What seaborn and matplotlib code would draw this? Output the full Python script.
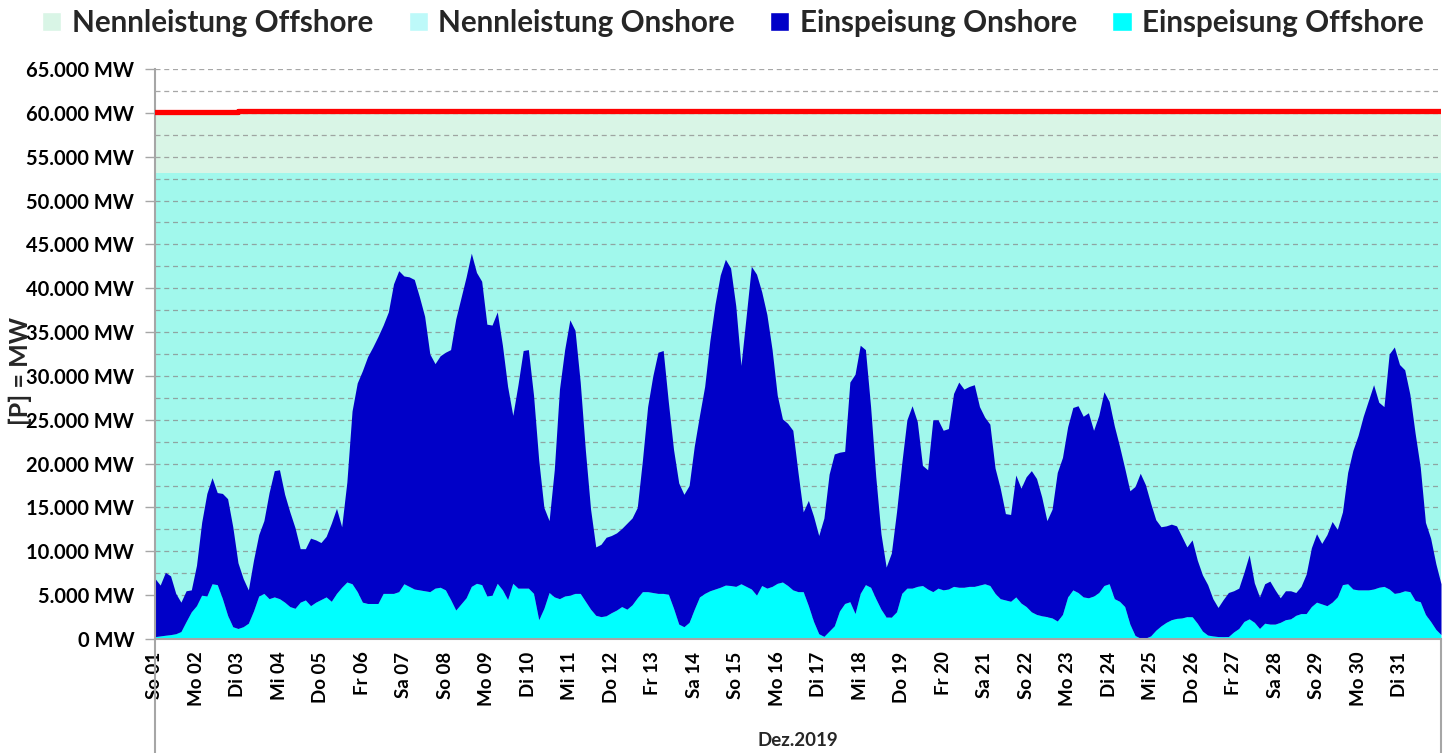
import numpy as np
import matplotlib
matplotlib.use("Agg")
import matplotlib.pyplot as plt
import seaborn as sns
from matplotlib.patches import Patch
from matplotlib.ticker import MultipleLocator, FuncFormatter

# ---------------- data (MW, 3-hour steps, 01.12.2019 00:00 .. 01.01.2020 00:00) -------------
EINSPEISUNG_GESAMT = [
    6900, 6150, 7600, 7200, 5200, 4200, 5500, 5600,
    8400, 13300, 16600, 18400, 16700, 16600, 16000, 12800,
    8700, 6900, 5600, 9000, 11900, 13500, 16700, 19200,
    19300, 16500, 14500, 12700, 10300, 10300, 11500, 11300,
    11000, 11700, 13200, 14900, 12800, 17900, 26000, 29200,
    30600, 32200, 33300, 34500, 35800, 37300, 40500, 42000,
    41400, 41300, 41000, 39000, 36800, 32500, 31400, 32300,
    32700, 33000, 36500, 38900, 41300, 44000, 41800, 40800,
    35900, 35800, 37300, 33500, 28800, 25500, 29000, 32900,
    33000, 27800, 20400, 15000, 13500, 19300, 28500, 33000,
    36400, 35200, 29300, 21500, 14800, 10500, 10800, 11600,
    11800, 12100, 12600, 13200, 13800, 15000, 20400, 26500,
    30000, 32700, 32900, 27000, 21600, 17800, 16500, 17500,
    22000, 25500, 28800, 34000, 38200, 41500, 43300, 42300,
    38000, 31200, 36800, 42500, 41600, 39600, 37000, 33000,
    27800, 25100, 24600, 23800, 19000, 14500, 15800, 14000,
    11800, 13800, 18800, 21100, 21300, 21400, 29300, 30200,
    33500, 33000, 26500, 18500, 12000, 8200, 9800, 14500,
    20000, 25000, 26600, 24800, 19800, 19300, 25000, 25000,
    23800, 24000, 28000, 29300, 28500, 28800, 29000, 26500,
    25300, 24500, 19500, 17200, 14300, 14200, 18700, 17200,
    18500, 19200, 18300, 16200, 13500, 14800, 19000, 20700,
    24200, 26400, 26600, 25400, 25800, 23800, 25500, 28200,
    27100, 24300, 22000, 19500, 16900, 17400, 18900, 17600,
    15500, 13600, 12800, 12900, 13100, 12900, 11700, 10500,
    11300, 9000, 7300, 6200, 4600, 3600, 4500, 5300,
    5500, 5800, 7600, 9600, 6400, 4800, 6300, 6600,
    5600, 4700, 5500, 5500, 5300, 6000, 7400, 10400,
    12000, 10900, 11900, 13400, 12500, 14500, 19000, 21500,
    23200, 25400, 27200, 29000, 27000, 26500, 32500, 33300,
    31300, 30700, 27900, 23500, 19600, 13300, 11500, 8600,
    6300,
]

EINSPEISUNG_OFFSHORE = [
    270, 350, 430, 500, 600, 850, 2000, 3100,
    3800, 5000, 4900, 6300, 6200, 4600, 2700, 1400,
    1200, 1400, 1800, 3200, 4900, 5200, 4600, 4800,
    4600, 4200, 3700, 3500, 4200, 4450, 3800, 4200,
    4500, 4800, 4300, 5200, 5900, 6500, 6300, 5400,
    4200, 4050, 4050, 4050, 5200, 5200, 5200, 5400,
    6300, 6000, 5700, 5600, 5500, 5400, 5800, 5900,
    5600, 4500, 3300, 4000, 4700, 6000, 6350, 6200,
    4900, 5000, 6350, 5600, 4500, 6350, 5800, 5800,
    5800, 5200, 2200, 3500, 5300, 4800, 4600, 4900,
    5000, 5200, 5200, 4300, 3400, 2700, 2550, 2650,
    3000, 3300, 3700, 3400, 3900, 4700, 5400, 5400,
    5300, 5200, 5200, 5100, 3500, 1700, 1400, 1900,
    3400, 4800, 5200, 5500, 5700, 5900, 6150, 6100,
    6000, 6300, 6000, 5700, 5000, 6100, 5800, 6000,
    6350, 6500, 6100, 5600, 5400, 5400, 3800, 2000,
    600, 300, 900, 1500, 3200, 4050, 4250, 2900,
    5200, 6200, 5900, 4600, 3400, 2500, 2500, 3100,
    5200, 5800, 5800, 6000, 6100, 5700, 5400, 5800,
    5600, 5700, 6000, 5900, 5900, 6000, 6000, 6150,
    6300, 6100, 5200, 4600, 4450, 4300, 4800, 4100,
    3700, 3100, 2800, 2650, 2550, 2400, 2050, 2800,
    4800, 5600, 5300, 4800, 4700, 4900, 5300, 6100,
    6300, 4600, 4300, 3700, 1700, 400, 100, 100,
    350, 1000, 1500, 1900, 2200, 2350, 2400, 2550,
    2550, 1800, 900, 450, 350, 280, 270, 280,
    800, 1200, 2000, 2300, 1900, 1200, 1800, 1700,
    1700, 1900, 2200, 2300, 2700, 2900, 2900, 3700,
    4200, 4000, 3800, 4200, 4800, 6200, 6300, 5700,
    5600, 5600, 5600, 5700, 5900, 6000, 5700, 5200,
    5300, 5500, 5400, 4400, 4250, 2800, 2000, 1100,
    500,
]

# installed capacity per day boundary (32 values, last repeats day 31)
NENNLEISTUNG_ONSHORE = [53100, 53100, 53100, 53100, 53100, 53100, 53100, 53100,
                        53100, 53100, 53100, 53100, 53100, 53100, 53100, 53100,
                        53100, 53100, 53100, 53100, 53100, 53100, 53100, 53100,
                        53100, 53100, 53100, 53100, 53100, 53100, 53100, 53100]
NENNLEISTUNG_OFFSHORE = [6960, 6960, 7085, 7085, 7085, 7085, 7085, 7085,
                         7085, 7085, 7085, 7085, 7085, 7085, 7085, 7085,
                         7085, 7085, 7085, 7085, 7085, 7085, 7085, 7085,
                         7085, 7085, 7085, 7085, 7085, 7085, 7085, 7085]

DAY_LABELS = ["So 01", "Mo 02", "Di 03", "Mi 04", "Do 05", "Fr 06", "Sa 07", "So 08",
              "Mo 09", "Di 10", "Mi 11", "Do 12", "Fr 13", "Sa 14", "So 15", "Mo 16",
              "Di 17", "Mi 18", "Do 19", "Fr 20", "Sa 21", "So 22", "Mo 23", "Di 24",
              "Mi 25", "Do 26", "Fr 27", "Sa 28", "So 29", "Mo 30", "Di 31"]

SERIES_NAMES = ["Nennleistung Offshore", "Nennleistung Onshore",
                "Einspeisung Onshore", "Einspeisung Offshore"]

# ---------------- derived ----------------
gesamt = np.array(EINSPEISUNG_GESAMT, dtype=float)
offshore = np.array(EINSPEISUNG_OFFSHORE, dtype=float)
onshore = gesamt - offshore
hours = np.arange(len(gesamt)) * 3
day_hours = np.arange(len(NENNLEISTUNG_ONSHORE)) * 24
cap_on = np.array(NENNLEISTUNG_ONSHORE, dtype=float)
cap_total = cap_on + np.array(NENNLEISTUNG_OFFSHORE, dtype=float)

# ---------------- style ----------------
sns.set_theme(style="white")
plt.rcParams["font.family"] = ["Lato", "DejaVu Sans"]
plt.rcParams["font.weight"] = "bold"

C_NENN_OFF = "#d9f5e6"
C_NENN_ON = "#a1f8ec"
C_NENN_ON_LEG = "#bdf9f9"
C_EIN_ON = "#0000c8"
C_EIN_OFF = "#00ffff"
GRAY = "#a6a6a6"

W, H = 1451, 753
fig = plt.figure(figsize=(W / 100, H / 100), dpi=100)
ax = fig.add_axes([155 / W, 1 - 639 / H, (1441 - 155) / W, 570 / H])

# capacity bands
ax.fill_between(day_hours, 0, cap_on, step="post", color=C_NENN_ON, lw=0, zorder=1)
ax.fill_between(day_hours, cap_on, cap_total, step="post", color=C_NENN_OFF, lw=0, zorder=1)

# feed-in stacked areas
ax.stackplot(hours, offshore, onshore, colors=[C_EIN_OFF, C_EIN_ON], lw=0, zorder=2)

# total capacity line
sns.lineplot(x=day_hours, y=cap_total, drawstyle="steps-post", color="#ff0000",
             lw=3.8, ax=ax, zorder=3, legend=False)

ax.set_xlim(0, 744)
ax.set_ylim(0, 65000)

ax.yaxis.set_major_locator(MultipleLocator(5000))
ax.yaxis.set_minor_locator(MultipleLocator(2500))
ax.yaxis.set_major_formatter(FuncFormatter(lambda v, p: f"{v:,.0f}".replace(",", ".") + " MW"))
ax.set_axisbelow("line")
ax.grid(axis="y", which="both", color="#8a8a8a", linestyle=(0, (4, 3)), linewidth=0.9, alpha=0.75)
ax.grid(axis="x", visible=False)

ax.set_xticks(day_hours[:31])
ax.set_xticklabels(DAY_LABELS, rotation=90)
ax.tick_params(axis="x", length=0, pad=9, labelsize=13.5)
ax.tick_params(axis="y", which="major", direction="out", length=7, width=1, color=GRAY,
               pad=8, labelsize=14.5, left=True)
ax.tick_params(axis="y", which="minor", length=0)
for lab in ax.get_xticklabels() + ax.get_yticklabels():
    lab.set_fontweight("bold")
    lab.set_color("black")

for s in ["top", "right"]:
    ax.spines[s].set_visible(False)
for s in ["left", "bottom"]:
    ax.spines[s].set_color(GRAY)
    ax.spines[s].set_linewidth(1.5)
ax.set_xlabel("")
ax.set_ylabel("")

# category separator lines below axis
for xx in (0, 1):
    ax.plot([xx, xx], [0, -0.205], transform=ax.transAxes, clip_on=False, color=GRAY, lw=1.5)

fig.text(20 / W, 1 - 371 / H, "[P] = MW", rotation=90, ha="center", va="center",
         fontsize=18, fontweight="bold")
fig.text(798 / W, 1 - 741 / H, "Dez.2019", ha="center", va="center",
         fontsize=13.5, fontweight="bold")

handles = [Patch(facecolor=C_NENN_OFF), Patch(facecolor=C_NENN_ON_LEG),
           Patch(facecolor=C_EIN_ON), Patch(facecolor=C_EIN_OFF)]
fig.legend(handles, SERIES_NAMES, loc="center", bbox_to_anchor=(733 / W, 1 - 23 / H), ncol=4,
           frameon=False, prop={"weight": "bold", "size": 21.3}, handlelength=0.65,
           handleheight=0.65, handletextpad=0.35, columnspacing=1.2, borderpad=0)

fig.savefig("out.png", dpi=100)
